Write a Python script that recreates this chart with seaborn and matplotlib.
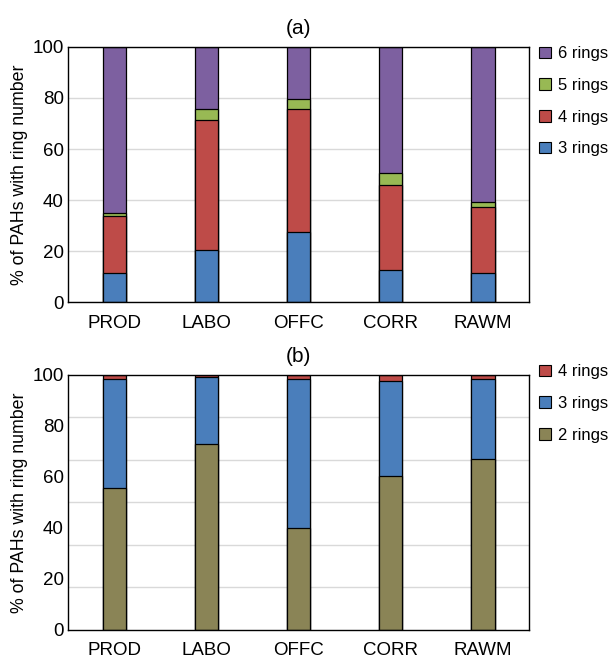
import numpy as np
import pandas as pd
import matplotlib
matplotlib.use("Agg")
import matplotlib.pyplot as plt
import seaborn as sns
from matplotlib.patches import Patch

sites = ["PROD", "LABO", "OFFC", "CORR", "RAWM"]

# Panel (a): % of PAHs by ring number
a_3rings = [11.2, 20.3, 27.3, 12.5, 11.5]
a_4rings = [22.5, 51.1, 48.3, 33.2, 25.6]
a_5rings = [1.3, 4.3, 4.0, 4.8, 2.2]
a_6rings = [65.0, 24.3, 20.4, 49.5, 60.7]

# Panel (b)
b_2rings = [55.7, 72.8, 39.9, 60.5, 67.1]
b_3rings = [42.7, 26.2, 58.5, 37.1, 31.2]
b_4rings = [1.6, 1.0, 1.6, 2.4, 1.7]

yticks = [0, 20, 40, 60, 80, 100]
ylabel = "% of PAHs with ring number"

col_a = {"3 rings": "#4A7EBB", "4 rings": "#BE4B48", "5 rings": "#98B954", "6 rings": "#7D60A0"}
col_b = {"2 rings": "#8A8456", "3 rings": "#4A7EBB", "4 rings": "#BE4B48"}

sns.set_style("white")
plt.rcParams["font.family"] = ["Liberation Sans", "DejaVu Sans"]
plt.rcParams["text.color"] = "black"
plt.rcParams["axes.labelcolor"] = "black"
plt.rcParams["xtick.color"] = "black"
plt.rcParams["ytick.color"] = "black"

fig = plt.figure(figsize=(6.14, 6.6), dpi=100)
ax_a = fig.add_axes([0.1107, 0.5424, 0.751, 0.3864])
ax_b = fig.add_axes([0.1107, 0.0455, 0.751, 0.3864])

TICK_FS = 13.5


def stacked(ax, series, colors):
    names = list(series.keys())
    cum = np.cumsum(np.array([series[n] for n in names]), axis=0)
    for i in range(len(names) - 1, -1, -1):
        df = pd.DataFrame({"site": sites, "val": cum[i]})
        sns.barplot(data=df, x="site", y="val", order=sites, color=colors[names[i]],
                    width=0.25, edgecolor="black", linewidth=0.9, saturation=1,
                    ax=ax, errorbar=None)
    ax.set_xlim(-0.5, 4.5)
    ax.set_ylim(0, 100)
    ax.set_xlabel("")
    ax.set_ylabel(ylabel, fontsize=12.8, labelpad=3)
    ax.set_yticks(yticks)
    ax.set_yticklabels([str(t) for t in yticks], fontsize=TICK_FS)
    ax.tick_params(axis="both", length=0, pad=3, labelsize=TICK_FS)
    ax.tick_params(axis="x", pad=9)
    ax.set_axisbelow(True)
    for s in ax.spines.values():
        s.set_color("black")
        s.set_linewidth(1.0)
    handles = [Patch(facecolor=colors[n], edgecolor="black", linewidth=0.8, label=n)
               for n in names[::-1]]
    return handles


h_a = stacked(ax_a, {"3 rings": a_3rings, "4 rings": a_4rings,
                     "5 rings": a_5rings, "6 rings": a_6rings}, col_a)
ax_a.yaxis.grid(True, color="#D9D9D9", linewidth=1.0)
ax_a.set_title("(a)", fontsize=15, pad=9)

h_b = stacked(ax_b, {"2 rings": b_2rings, "3 rings": b_3rings, "4 rings": b_4rings}, col_b)
ax_b.set_yticks(np.linspace(0, 100, 7), minor=True)
ax_b.tick_params(axis="y", which="minor", length=0)
ax_b.yaxis.grid(False, which="major")
ax_b.yaxis.grid(True, which="minor", color="#D9D9D9", linewidth=1.0)
ax_b.set_title("(b)", fontsize=15, pad=9)

leg_kw = dict(loc="upper left", frameon=False, fontsize=12, handlelength=0.7,
              handleheight=0.7, handletextpad=0.45, labelspacing=1.0,
              borderaxespad=0, borderpad=0)
fig.legend(handles=h_a, bbox_to_anchor=(0.878, 0.93), **leg_kw)
fig.legend(handles=h_b, bbox_to_anchor=(0.878, 0.448), **leg_kw)

fig.savefig("out.png", dpi=100, facecolor="white")
